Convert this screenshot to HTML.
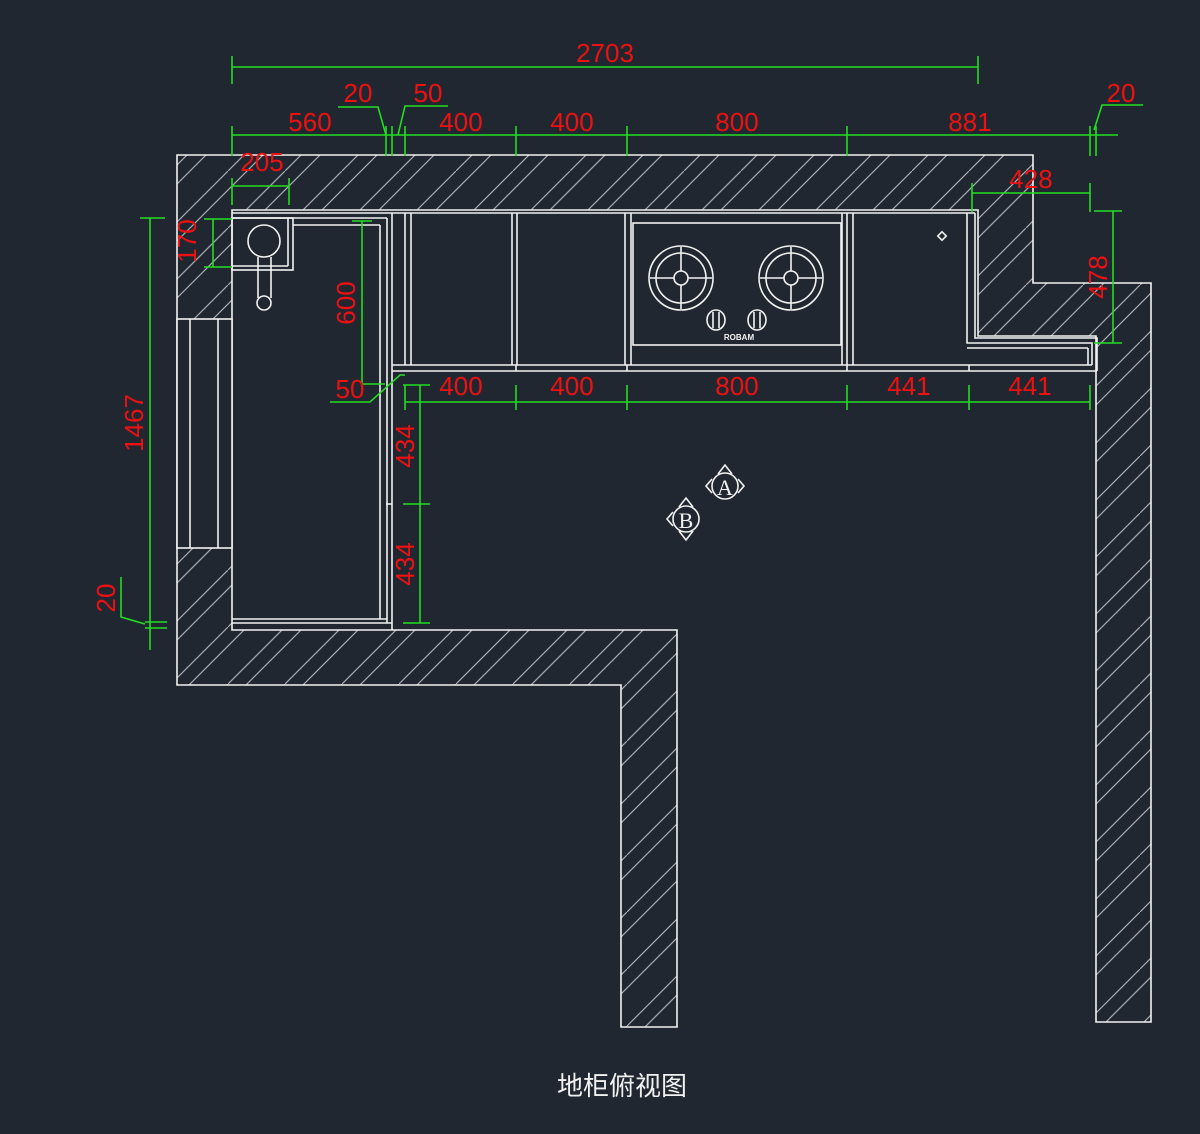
<!DOCTYPE html>
<html><head><meta charset="utf-8"><style>
html,body{margin:0;padding:0;background:#212730;}
svg{display:block}
.w{stroke:#f2f2f2;stroke-width:1.6;fill:none}
.g{stroke:#22dd22;stroke-width:1.6;fill:none}
.t{fill:#ee1111;font-family:"Liberation Sans",sans-serif;font-size:26px;text-anchor:middle}
</style></head><body>
<svg width="1200" height="1134" viewBox="0 0 1200 1134" xmlns="http://www.w3.org/2000/svg">
<defs>
<pattern id="h" patternUnits="userSpaceOnUse" width="57" height="57">
<path d="M-2,59 L59,-2 M-2,21 L21,-2 M17,59 L59,17" stroke="#a8acb2" stroke-width="1.2"/>
</pattern>
</defs>
<rect width="1200" height="1134" fill="#212730"/>
<!-- walls -->
<path d="M177,155 L1033,155 L1033,283 L1151,283 L1151,1022 L1096,1022 L1096,336 L978,336 L978,210 L232,210 L232,630 L677,630 L677,1027 L621,1027 L621,685 L177,685 Z" style="fill:url(#h);stroke:#f2f2f2;stroke-width:1.6"/>
<!-- left window area -->
<rect x="177" y="319" width="55" height="229" style="fill:#212730;stroke:#f2f2f2;stroke-width:1.6"/>
<line x1="190" y1="319" x2="190" y2="548" class="w"/>
<line x1="218" y1="319" x2="218" y2="548" class="w"/>
<!-- sink cabinet -->
<line x1="232" y1="213" x2="975" y2="213" class="w"/>
<line x1="232" y1="218" x2="387" y2="218" class="w"/>
<line x1="293" y1="225" x2="380" y2="225" class="w"/>
<line x1="380" y1="225" x2="380" y2="619" class="w" stroke-width="1.2"/>
<line x1="387" y1="218" x2="387" y2="623" class="w"/>
<line x1="392" y1="213" x2="392" y2="630" class="w"/>
<line x1="386" y1="504" x2="392" y2="504" class="w"/>
<line x1="232" y1="619" x2="387" y2="619" class="w"/>
<line x1="232" y1="623" x2="392" y2="623" class="w"/>
<rect x="232" y="218" width="61" height="52" class="w"/>
<line x1="288" y1="218" x2="288" y2="266" class="w"/>
<line x1="232" y1="266" x2="288" y2="266" class="w"/>
<circle cx="264" cy="241" r="16" class="w"/>
<path d="M258,257 L258,298 M271,257 L271,298" class="w"/>
<circle cx="264" cy="303" r="7" class="w"/>
<!-- top run -->
<line x1="392" y1="365" x2="1092" y2="365" class="w"/>
<line x1="392" y1="371" x2="1097" y2="371" class="w"/>
<line x1="405" y1="213" x2="405" y2="365" class="w"/>
<line x1="411" y1="213" x2="411" y2="365" class="w"/>
<line x1="512" y1="213" x2="512" y2="365" class="w"/>
<line x1="517" y1="213" x2="517" y2="365" class="w"/>
<line x1="625" y1="213" x2="625" y2="365" class="w"/>
<line x1="631" y1="213" x2="631" y2="365" class="w"/>
<line x1="842" y1="213" x2="842" y2="365" class="w"/>
<line x1="847" y1="213" x2="847" y2="371" class="w"/>
<line x1="853" y1="213" x2="853" y2="365" class="w"/>
<line x1="969" y1="365" x2="969" y2="371" class="w"/>
<line x1="516" y1="365" x2="516" y2="371" class="w"/>
<line x1="627" y1="365" x2="627" y2="371" class="w"/>
<path d="M967,213 L967,343 L1092,343 L1092,365" class="w"/>
<path d="M975,213 L975,338 L1097,338 L1097,371" class="w"/>
<line x1="967" y1="348" x2="1088" y2="348" class="w"/>
<line x1="1088" y1="348" x2="1088" y2="365" class="w"/>
<!-- stove -->
<rect x="633" y="223" width="208" height="122" class="w"/>
<g class="w" stroke-width="1.5">
<circle cx="681" cy="278" r="32"/><circle cx="681" cy="278" r="25"/><circle cx="681" cy="278" r="7"/>
<path d="M650,278 L674,278 M688,278 L712,278 M681,247 L681,271 M681,285 L681,309"/>
<circle cx="791" cy="278" r="32"/><circle cx="791" cy="278" r="25"/><circle cx="791" cy="278" r="7"/>
<path d="M760,278 L784,278 M798,278 L822,278 M791,247 L791,271 M791,285 L791,309"/>
<ellipse cx="716" cy="320" rx="9" ry="10"/><path d="M713,312 L713,328 M719,312 L719,328"/>
<ellipse cx="757" cy="320" rx="9" ry="10"/><path d="M754,312 L754,328 M760,312 L760,328"/>
</g>
<text x="739" y="340" fill="#f2f2f2" font-family="Liberation Sans,sans-serif" font-size="8" text-anchor="middle" font-weight="bold">ROBAM</text>
<rect x="939" y="233" width="6" height="6" transform="rotate(45 942 236)" class="w" stroke-width="1.2"/>
<!-- markers -->
<g class="w" stroke-width="1.4">
<circle cx="725" cy="486" r="13"/>
<path d="M718,474 L725,465 L732,474 M712,479 L706,486 L712,493 M738,479 L744,486 L738,493"/>
<circle cx="686" cy="519" r="13"/>
<path d="M679,507 L686,498 L693,507 M673,512 L667,519 L673,526 M679,531 L686,540 L693,531"/>
</g>
<text x="725" y="495" fill="#f2f2f2" font-family="Liberation Serif,serif" font-size="22" text-anchor="middle">A</text>
<text x="686" y="528" fill="#f2f2f2" font-family="Liberation Serif,serif" font-size="22" text-anchor="middle">B</text>
<!-- dimensions -->
<g class="g">
<path d="M232,67 L978,67 M232,56 L232,84 M978,56 L978,84"/>
<path d="M232,135 L1118,135"/>
<path d="M232,126 L232,156 M386,126 L386,156 M392,126 L392,156 M405,126 L405,156 M516,126 L516,156 M627,126 L627,156 M847,126 L847,156 M1090,126 L1090,156 M1096,126 L1096,156"/>
<path d="M338,107 L378,107 L386,135 M448,106 L405,106 L398,135 M1143,105 L1102,105 L1094,130"/>
<path d="M232,186 L289,186 M232,178 L232,205 M289,178 L289,205"/>
<path d="M213,219 L213,267 M204,219 L232,219 M204,267 L232,267"/>
<path d="M362,221 L362,384 M352,221 L372,221 M362,384 L385,384"/>
<path d="M330,402 L370,402 L400,375 L405,375"/>
<path d="M405,402 L1090,402 M405,385 L405,410 M516,385 L516,410 M627,385 L627,410 M847,385 L847,410 M969,385 L969,410 M1090,385 L1090,410"/>
<path d="M420,385 L420,623 M403,385 L430,385 M403,504 L430,504 M403,623 L430,623"/>
<path d="M150,218 L150,650 M140,218 L165,218 M145,622 L167,622 M145,628 L167,628"/>
<path d="M121,577 L121,617 L145,624"/>
<path d="M972,193 L1090,193 M972,183 L972,212 M1090,183 L1090,212"/>
<path d="M1113,211 L1113,343 M1094,211 L1122,211 M1094,343 L1122,343"/>
</g>
<g class="t">
<text x="605" y="62">2703</text>
<text x="310" y="131">560</text>
<text x="461" y="131">400</text>
<text x="572" y="131">400</text>
<text x="737" y="131">800</text>
<text x="970" y="131">881</text>
<text x="358" y="102">20</text>
<text x="428" y="102">50</text>
<text x="1121" y="102">20</text>
<text x="262" y="171">205</text>
<text x="1031" y="188">428</text>
<text x="350" y="398">50</text>
<text x="461" y="395">400</text>
<text x="572" y="395">400</text>
<text x="737" y="395">800</text>
<text x="909" y="395">441</text>
<text x="1030" y="395">441</text>
<text transform="translate(196,241) rotate(-90)">170</text>
<text transform="translate(355,303) rotate(-90)">600</text>
<text transform="translate(414,446) rotate(-90)">434</text>
<text transform="translate(414,564) rotate(-90)">434</text>
<text transform="translate(143,423) rotate(-90)">1467</text>
<text transform="translate(115,598) rotate(-90)">20</text>
<text transform="translate(1107,277) rotate(-90)">478</text>
</g>
<text x="622" y="1095" fill="#f0f0f0" font-family="'Liberation Sans','Noto Sans CJK SC',sans-serif" font-size="26" text-anchor="middle">地柜俯视图</text>
</svg>
</body></html>
